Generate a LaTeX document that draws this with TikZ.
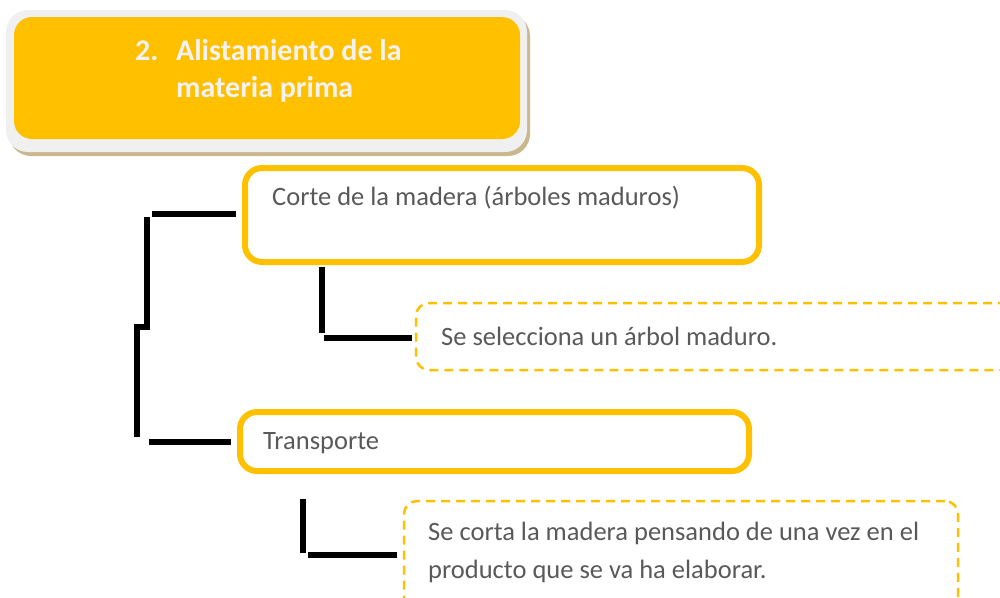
\documentclass[tikz,border=0pt]{standalone}
\usepackage{fontspec}
\setmainfont{Carlito}
\definecolor{orng}{HTML}{FFC000}
\definecolor{txtgray}{HTML}{595959}
\definecolor{titletxt}{HTML}{F2F2F2}
\definecolor{rimgray}{HTML}{F0F0F0}
\definecolor{shadowtan}{HTML}{C9B88E}
\begin{document}
\begin{tikzpicture}[x=1pt,y=-1pt,
  solidbox/.style={draw=orng, line width=6pt, rounded corners=17pt, fill=white, inner sep=0pt},
  dashbox/.style={draw=orng, line width=2.5pt, dash pattern=on 9pt off 6pt, rounded corners=13pt, inner sep=0pt},
  conn/.style={line width=5.5pt, black},
  txt/.style={font=\fontsize{26.5}{38}\selectfont, text=txtgray, anchor=base west, inner sep=0pt, align=left},
  titletext/.style={font=\fontsize{30}{37}\selectfont\bfseries, text=titletxt, anchor=base west, inner sep=0pt, align=left}]
\useasboundingbox (0,0) rectangle (1000,597);
\clip (0,0) rectangle (1000,597);

% title box
\fill[shadowtan, rounded corners=22pt] (9,14) rectangle (530,156);
\fill[rimgray, rounded corners=22pt] (6,10) rectangle (527,152);
\node[fill=orng, rounded corners=18pt, minimum width=506pt, minimum height=122pt, inner sep=0pt] (title) at (267,78) {};
\node[titletext] (titlelbl) at (135,97) {\makebox[41pt][l]{2.}Alistamiento de la\\\hspace*{41pt}materia prima};

% boxes
\node[solidbox, minimum width=514pt, minimum height=94pt] (corte) at (502,215) {};
\node[txt] (cortelbl) at (272,205) {Corte de la madera (árboles maduros)};

\node[dashbox, minimum width=604pt, minimum height=67pt] (sel) at (718,336.5) {};
\node[txt] (sellbl) at (441,345) {Se selecciona un árbol maduro.};

\node[solidbox, minimum width=509pt, minimum height=59pt] (transp) at (494.5,441.5) {};
\node[txt] (transplbl) at (263,449) {Transporte};

\node[dashbox, minimum width=554pt, minimum height=139pt] (corta) at (681,570.5) {};
\node[txt] (cortalbl) at (428,578) {Se corta la madera pensando de una vez en el\\producto que se va ha elaborar.};

% connectors
\coordinate (a1) at (152,214);
\coordinate (a2) at (147,217);
\coordinate (a3) at (147,327);
\coordinate (a4) at (137,327);
\coordinate (a5) at (137,437);
\coordinate (a6) at (149,442);
\draw[conn, shorten >=6pt] (a1) -- (corte.west |- a1);
\draw[conn] (a2) -- (a3) -- (a4) -- (a5);
\draw[conn, shorten >=6pt] (a6) -- (transp.west |- a6);

\coordinate (b1) at (322,267);
\coordinate (b2) at (322,333);
\coordinate (b3) at (324,338);
\draw[conn] (b1) -- (b2);
\draw[conn, shorten >=3pt] (b3) -- (sel.west |- b3);

\coordinate (c1) at (303,499);
\coordinate (c2) at (303,553);
\coordinate (c3) at (308,555);
\draw[conn] (c1) -- (c2);
\draw[conn, shorten >=6pt] (c3) -- (corta.west |- c3);
\end{tikzpicture}
\end{document}
